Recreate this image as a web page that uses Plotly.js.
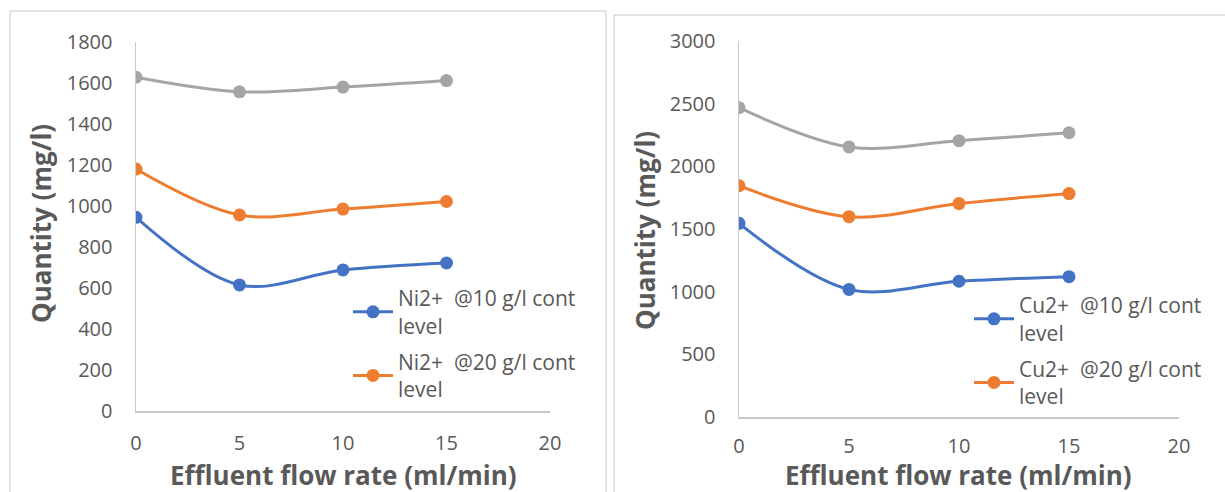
<!DOCTYPE html>
<html>
<head>
<meta charset="utf-8">
<script src="https://cdn.plot.ly/plotly-3.0.1.min.js"></script>
<style>html,body{margin:0;padding:0;background:#fff;}#chart{width:1225px;height:492px;}</style>
</head>
<body>
<div id="chart"></div>
<script>
const flowRate = [0, 5, 10, 15];
const niLabels = ["Ni2+  @10 g/l cont<br>level", "Ni2+  @20 g/l cont<br>level", "Ni2+  @30 g/l cont level"];
const ni10 = [945, 615, 688, 722];
const ni20 = [1180, 956, 985, 1022];
const ni30 = [1628, 1557, 1580, 1612];
const cuLabels = ["Cu2+  @10 g/l cont<br>level", "Cu2+  @20 g/l cont<br>level", "Cu2+  @30 g/l cont level"];
const cu10 = [1545, 1018, 1083, 1120];
const cu20 = [1845, 1598, 1703, 1783];
const cu30 = [2468, 2155, 2205, 2268];
const xTicks = [0, 5, 10, 15, 20];
const niTicks = [0, 200, 400, 600, 800, 1000, 1200, 1400, 1600, 1800];
const cuTicks = [0, 500, 1000, 1500, 2000, 2500, 3000];
const xTitle = "Effluent flow rate (ml/min)";
const yTitle = "Quantity (mg/l)";

const colors = ["#4472C4", "#ED7D31", "#A5A5A5"];
const W = 1225, H = 492;
const px = v => v / W, py = v => 1 - v / H;
const FONT = "Open Sans, Lato, sans-serif";
const TXT = "#595959";

function tr(y, name, color, xa, ya, leg, show) {
  return {x: flowRate, y: y, name: name, type: "scatter", mode: "lines+markers",
    xaxis: xa, yaxis: ya, legend: leg, showlegend: show, legendgroup: name,
    line: {color: color, width: 3, shape: "spline", smoothing: 1},
    marker: {color: color, size: 13, symbol: "circle"}, hoverinfo: "x+y"};
}
const data = [
  tr(ni10, niLabels[0], colors[0], "x", "y", "legend", true),
  tr(ni20, niLabels[1], colors[1], "x", "y", "legend", true),
  tr(ni30, niLabels[2], colors[2], "x", "y", "legend", false),
  tr(cu10, cuLabels[0], colors[0], "x2", "y2", "legend2", true),
  tr(cu20, cuLabels[1], colors[1], "x2", "y2", "legend2", true),
  tr(cu30, cuLabels[2], colors[2], "x2", "y2", "legend2", false)
];

function xax(d0, d1, anchor, standoff) {
  return {domain: [d0, d1], anchor: anchor, range: [0, 20], tickvals: xTicks, showgrid: false,
    zeroline: false, showline: true, linecolor: "#c9c9c9", linewidth: 1.5, ticks: "",
    tickfont: {family: FONT, size: 20, color: TXT}, ticklabelstandoff: standoff, fixedrange: true};
}
function yax(d0, d1, anchor, max, tv) {
  return {domain: [d0, d1], anchor: anchor, range: [0, max], tickvals: tv, showgrid: false,
    zeroline: false, showline: true, linecolor: "#c9c9c9", linewidth: 1.5, ticks: "",
    tickfont: {family: FONT, size: 20, color: TXT}, ticklabelstandoff: 18, fixedrange: true};
}
function legendAt(x, y) {
  return {x: px(x), y: py(y), xanchor: "left", yanchor: "top", bgcolor: "rgba(0,0,0,0)",
    font: {family: FONT, size: 21, color: TXT}, traceorder: "grouped", tracegroupgap: 6,
    itemwidth: 40, borderwidth: 0};
}
function ann(text, x, y, angle) {
  return {text: text, xref: "paper", yref: "paper", x: px(x), y: py(y), textangle: angle,
    xanchor: "center", yanchor: "middle", showarrow: false,
    font: {family: FONT, size: 26, color: TXT, weight: "bold"}};
}
const layout = {
  width: W, height: H, margin: {l: 0, r: 0, t: 0, b: 0},
  paper_bgcolor: "#fff", plot_bgcolor: "rgba(0,0,0,0)", showlegend: true,
  xaxis: xax(px(136), px(550), "y", 13),
  yaxis: yax(py(411), py(42), "x", 1800, niTicks),
  xaxis2: xax(px(739), px(1179), "y2", 10),
  yaxis2: yax(py(417), py(41), "x2", 3000, cuTicks),
  legend: legendAt(348, 278),
  legend2: legendAt(969, 285),
  shapes: [
    {type: "rect", xref: "paper", yref: "paper", x0: px(10), x1: px(606), y0: py(500), y1: py(11),
      line: {color: "#d9d9d9", width: 1.3}, fillcolor: "rgba(0,0,0,0)", layer: "below"},
    {type: "rect", xref: "paper", yref: "paper", x0: px(614), x1: px(1240), y0: py(500), y1: py(15),
      line: {color: "#d9d9d9", width: 1.3}, fillcolor: "rgba(0,0,0,0)", layer: "below"}
  ],
  annotations: [
    ann(yTitle, 41, 224, -90),
    ann(xTitle, 343, 475, 0),
    ann(yTitle, 645, 231, -90),
    ann(xTitle, 958, 475, 0)
  ]
};
Plotly.newPlot("chart", data, layout, {displayModeBar: false, staticPlot: true});
</script>
</body>
</html>
